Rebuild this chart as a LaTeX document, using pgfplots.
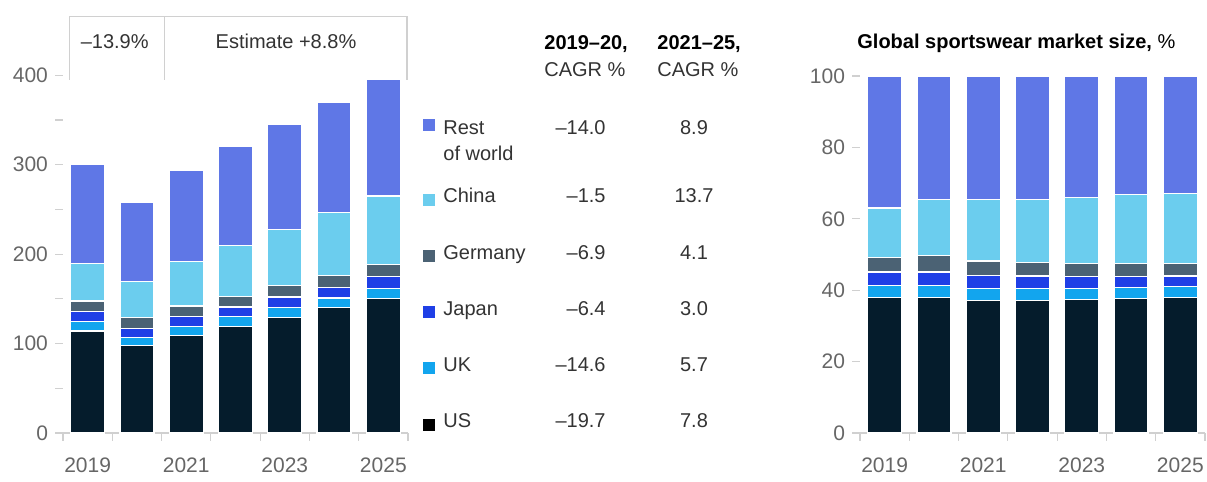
\documentclass[border=0pt]{standalone}
\usepackage{fontspec}
\setmainfont{Liberation Sans}
\usepackage{pgfplots}
\usepackage{pgfplotstable}
\pgfplotsset{compat=1.18}

\definecolor{cRow}{HTML}{5F77E6}
\definecolor{cChina}{HTML}{6BCDEE}
\definecolor{cGer}{HTML}{4B6274}
\definecolor{cJap}{HTML}{1F3FE6}
\definecolor{cUK}{HTML}{12A5EE}
\definecolor{cUS}{HTML}{051C2C}
\definecolor{ticktxt}{HTML}{666666}
\definecolor{txt}{HTML}{333333}
\definecolor{rule}{HTML}{D0D0D0}

\newcommand\tx{\fontsize{10}{12}\selectfont}

% sportswear market, $ billion
\pgfplotstableread{
x us uk japan germany china row
0 114 10.5 11 12 42 111
1 98 9 10 12 40 89
2 109 10 11.5 11.5 50 102
3 119 11 11 12 57 110.5
4 129 11 12 13 63 117.5
5 140 11 12 13 71 123
6 150 12 13 13 77 130
}\abs

% share of global market, %
\pgfplotstableread{
x us uk japan germany china row
0 38.0 3.4 3.7 4.1 13.8 37.0
1 38.0 3.4 3.7 4.6 15.8 34.5
2 37.2 3.2 3.8 4.0 17.1 34.7
3 37.2 3.2 3.6 3.8 17.7 34.5
4 37.4 3.1 3.3 3.7 18.5 34.0
5 37.7 3.1 3.0 3.7 19.2 33.3
6 38.0 3.1 2.9 3.5 19.6 32.9
}\pct

\pgfplotsset{
  mck/.style={
    scale only axis, width=172.5pt, anchor=south west,
    xmin=-0.5, xmax=6.5, ymin=0,
    ybar stacked, bar width=17pt,
    axis lines*=left,
    y axis line style={draw=none},
    x axis line style={rule, line width=0.6pt},
    xtick={0,2,4,6}, xticklabels={2019,2021,2023,2025},
    minor xtick={-0.5,0.5,...,6.5},
    major x tick style={draw=none},
    minor x tick style={rule, line width=0.6pt},
    ytick style={rule, line width=0.6pt},
    tick align=outside, major tick length=4pt, minor tick length=4pt,
    tick label style={font=\fontsize{10.5}{12}\selectfont, text=ticktxt},
    xticklabel style={yshift=-5pt},
    /pgf/number format/assume math mode=true,
    every axis plot/.append style={draw=white, line width=0.6pt},
    clip=false,
  }
}

\begin{document}
\begin{tikzpicture}
\path[use as bounding box] (0,0) rectangle (603.5pt,241pt);

% absolute market size
\begin{axis}[mck, at={(31.5pt,24.5pt)}, height=178.85pt, ymax=400,
  ytick={0,100,...,400}, minor ytick={50,150,250,350}]
\addplot[fill=cUS] table[x=x,y=us]{\abs};
\addplot[fill=cUK] table[x=x,y=uk]{\abs};
\addplot[fill=cJap] table[x=x,y=japan]{\abs};
\addplot[fill=cGer] table[x=x,y=germany]{\abs};
\addplot[fill=cChina] table[x=x,y=china]{\abs};
\addplot[fill=cRow] table[x=x,y=row]{\abs};
\end{axis}

% shares
\begin{axis}[mck, at={(430pt,24.5pt)}, height=178.5pt, ymax=100,
  ytick={0,20,...,100}]
\addplot[fill=cUS] table[x=x,y=us]{\pct};
\addplot[fill=cUK] table[x=x,y=uk]{\pct};
\addplot[fill=cJap] table[x=x,y=japan]{\pct};
\addplot[fill=cGer] table[x=x,y=germany]{\pct};
\addplot[fill=cChina] table[x=x,y=china]{\pct};
\addplot[fill=cRow] table[x=x,y=row]{\pct};
\end{axis}

% bracket over the left chart
\draw[rule, line width=0.7pt] (34.65pt,201pt) -- (34.65pt,232.65pt) -- (203.5pt,232.65pt) -- (203.5pt,201pt);
\draw[rule, line width=0.7pt] (82.15pt,232.65pt) -- (82.15pt,201pt);
\node[font=\tx, text=txt, anchor=base] at (57.35pt,216.65pt) {–13.9\%};
\node[font=\tx, text=txt, anchor=base] at (143pt,216.65pt) {Estimate +8.8\%};

% table headers
\node[font=\tx\bfseries, anchor=base west, inner sep=0pt] at (272pt,216pt) {2019–20,};
\node[font=\tx, text=txt, anchor=base west, inner sep=0pt] at (272pt,202.5pt) {CAGR \%};
\node[font=\tx\bfseries, anchor=base west, inner sep=0pt] at (328.5pt,216pt) {2021–25,};
\node[font=\tx, text=txt, anchor=base west, inner sep=0pt] at (328.5pt,202.5pt) {CAGR \%};

% legend with CAGR values
\foreach \c/\yc/\yb/\name/\va/\vb in {
  cRow/125.3/134.3/Rest/–14.0/8.9,
  cChina/199.7/203/China/–1.5/13.7,
  cGer/256.2/259.7/Germany/–6.9/4.1,
  cJap/311.7/315.7/Japan/–6.4/3.0,
  cUK/367.8/371.3/UK/–14.6/5.7,
  black/425/427.7/US/–19.7/7.8}{
  \fill[\c] (211.5pt,{(482-\yc)/2*1pt-3pt}) rectangle ++(6pt,6pt);
  \node[font=\tx, text=txt, anchor=base west, inner sep=0pt] at (221.5pt,{(482-\yb)/2*1pt}) {\name};
  \node[font=\tx, text=txt, anchor=base east, inner sep=0pt] at (303pt,{(482-\yb)/2*1pt}) {\va};
  \node[font=\tx, text=txt, anchor=base, inner sep=0pt] at (347pt,{(482-\yb)/2*1pt}) {\vb};
}
\node[font=\tx, text=txt, anchor=base west, inner sep=0pt] at (221.5pt,160.5pt) {of world};

% right chart title
\node[font=\tx, anchor=base west, inner sep=0pt] at (428.5pt,216.5pt) {\textbf{Global sportswear market size,} \%};
\end{tikzpicture}
\end{document}
